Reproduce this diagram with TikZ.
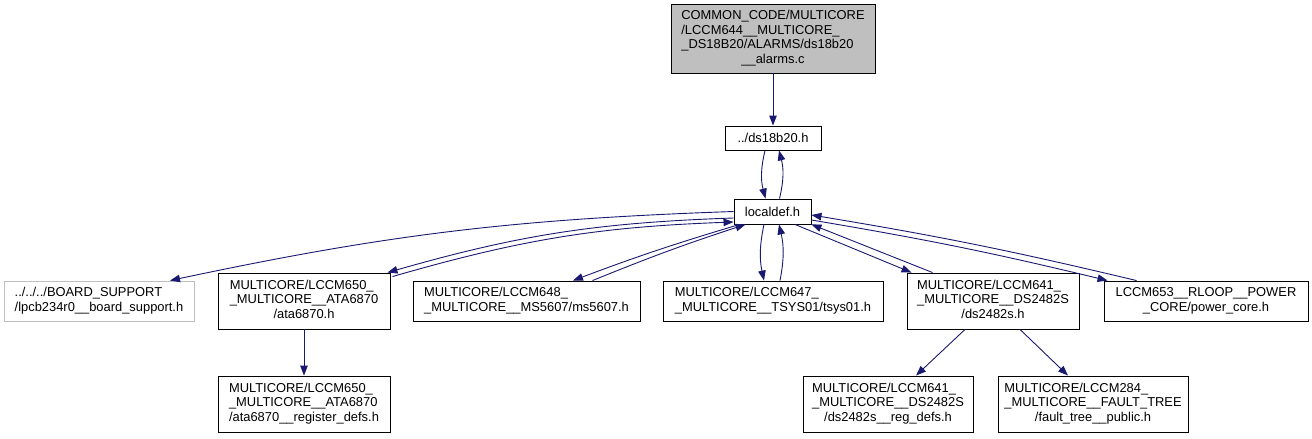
\documentclass[tikz,border=0pt]{standalone}
\usepackage{fontspec}
\setmainfont{Liberation Sans}
\usetikzlibrary{arrows.meta}
\definecolor{edgeblue}{HTML}{191970}
\definecolor{topgray}{HTML}{BFBFBF}
\definecolor{lightborder}{HTML}{BFBFBF}
\newcommand\dlab[2]{\begin{tabular}{@{}l@{}}#1\\\multicolumn{1}{@{}c@{}}{#2}\end{tabular}}
\begin{document}
\begin{tikzpicture}[x=1pt,y=-1pt,
  font=\fontsize{12.9}{14.7}\selectfont,
  filebox/.style={draw=black, line width=0.9pt, fill=white, inner sep=0pt, align=center},
  mainbox/.style={filebox, fill=topgray},
  extbox/.style={filebox, draw=lightborder},
  dep/.style={draw=edgeblue, line width=0.9pt, -{Triangle[length=10pt,width=7.5pt]}}]
\useasboundingbox (0,0) rectangle (1312,439);
% nodes
\node[mainbox, minimum width=204pt, minimum height=69pt] (top) at (773,38.5)
  {\dlab{COMMON\_CODE/MULTICORE\\/LCCM644\_\_MULTICORE\_\\\_DS18B20/ALARMS/ds18b20}{\_\_alarms.c}};
\node[filebox, minimum width=96pt, minimum height=24pt] (ds) at (773,138) {../ds18b20.h};
\node[filebox, minimum width=77pt, minimum height=25pt] (loc) at (772.5,211.5) {localdef.h};
\node[extbox, minimum width=190pt, minimum height=40pt] (board) at (99,301)
  {\dlab{../../../BOARD\_SUPPORT}{/lpcb234r0\_\_board\_support.h}};
\node[filebox, minimum width=172pt, minimum height=56pt] (ata) at (304,301)
  {\dlab{MULTICORE/LCCM650\_\\\_MULTICORE\_\_ATA6870}{/ata6870.h}};
\node[filebox, minimum width=227pt, minimum height=40pt] (ms) at (526.5,301)
  {\dlab{MULTICORE/LCCM648\_}{\_MULTICORE\_\_MS5607/ms5607.h}};
\node[filebox, minimum width=220pt, minimum height=40pt] (tsys) at (773,301)
  {\dlab{MULTICORE/LCCM647\_}{\_MULTICORE\_\_TSYS01/tsys01.h}};
\node[filebox, minimum width=172pt, minimum height=56pt] (dsb) at (993,301)
  {\dlab{MULTICORE/LCCM641\_\\\_MULTICORE\_\_DS2482S}{/ds2482s.h}};
\node[filebox, minimum width=204pt, minimum height=40pt] (pow) at (1206,301)
  {\dlab{LCCM653\_\_RLOOP\_\_POWER}{\_CORE/power\_core.h}};
\node[filebox, minimum width=172pt, minimum height=56pt] (reg) at (304,404)
  {\dlab{MULTICORE/LCCM650\_\\\_MULTICORE\_\_ATA6870}{/ata6870\_\_register\_defs.h}};
\node[filebox, minimum width=170pt, minimum height=56pt] (dsreg) at (888,404)
  {\dlab{MULTICORE/LCCM641\_\\\_MULTICORE\_\_DS2482S}{/ds2482s\_\_reg\_defs.h}};
\node[filebox, minimum width=190pt, minimum height=56pt] (ft) at (1093,404)
  {\dlab{MULTICORE/LCCM284\_\\\_MULTICORE\_\_FAULT\_TREE}{/fault\_tree\_\_public.h}};
% edges
\draw[dep] (top.south) -- (ds.north);
\draw[dep] ([xshift=-8pt]ds.south) to[bend right=14] ([xshift=-7pt]loc.north);
\draw[dep] ([xshift=7pt]loc.north) to[bend right=14] ([xshift=6pt]ds.south);
\draw[dep] (loc.west) to[bend right=5] ([xshift=71pt]board.north);
\draw[dep] ([yshift=-6.5pt]loc.west) to[bend right=7] ([xshift=-3pt]ata.north east);
\draw[dep] ([xshift=2pt,yshift=-4pt]ata.north east) to[bend left=7] ([yshift=-10.5pt]loc.west);
\draw[dep] ([xshift=6pt]loc.south west) to[bend right=2] ([xshift=46.5pt]ms.north);
\draw[dep] ([xshift=66pt]ms.north) to[bend left=2] ([xshift=12pt]loc.south west);
\draw[dep] ([xshift=-8.5pt]loc.south) to[bend right=12] ([xshift=-9pt]tsys.north);
\draw[dep] ([xshift=7pt]tsys.north) to[bend right=12] ([xshift=6.5pt]loc.south);
\draw[dep] ([xshift=22.5pt]loc.south) -- ([xshift=5pt]dsb.north west);
\draw[dep] ([xshift=26pt]dsb.north west) -- (loc.south east);
\draw[dep] ([yshift=-8.5pt]loc.east) to[bend left=2] ([xshift=4pt]pow.north west);
\draw[dep] ([xshift=33pt]pow.north west) to[bend right=2] ([yshift=-3.5pt]loc.east);
\draw[dep] (ata.south) -- (reg.north);
\draw[dep] ([xshift=-28pt]dsb.south) -- ([xshift=28pt]dsreg.north);
\draw[dep] ([xshift=27pt]dsb.south) -- ([xshift=-25pt]ft.north);
\end{tikzpicture}
\end{document}
